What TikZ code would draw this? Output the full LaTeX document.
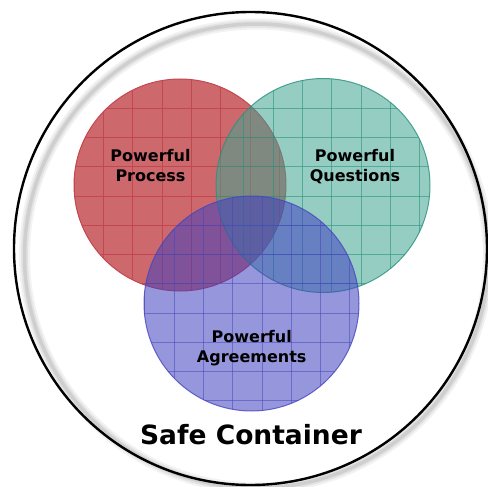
\documentclass[tikz,border=0pt]{standalone}
\usepackage{fontspec}
\setmainfont{DejaVu Sans}
\definecolor{redfill}{RGB}{205,105,108}
\definecolor{redline}{RGB}{195,70,80}
\definecolor{tealfill}{RGB}{64,164,146}
\definecolor{tealline}{RGB}{40,145,125}
\definecolor{bluefill}{RGB}{64,64,191}
\definecolor{blueline}{RGB}{70,70,190}
\tikzset{
  gridline/.style={line width=0.8pt},
  label/.style={font=\bfseries\fontsize{16}{20}\selectfont, align=center, inner sep=0pt, anchor=north},
  title/.style={font=\bfseries\fontsize{26.5}{30}\selectfont, inner sep=0pt, anchor=base},
}
\begin{document}
\begin{tikzpicture}[x=1pt,y=-1pt]
\useasboundingbox (0,0) rectangle (488,487);
% outer container with soft shadow
\draw[gray!10, line width=11pt] (256.5,256) circle (232);
\draw[gray!22, line width=7pt] (256.5,256) circle (232);
\draw[gray!38, line width=3.5pt] (256.5,256) circle (232);
\draw[black, line width=2.4pt] (250.5,248.5) circle (236.5);
% red circle
\fill[redfill] (180,185) circle (106);
\begin{scope}
  \clip (180,185) circle (106);
  \foreach \k in {-2,...,6} {
    \draw[gridline, redline] ({103.5+\k*29.3},70) -- ++(0,240);
  }
  \foreach \k in {-2,...,6} {
    \draw[gridline, redline] (60,{108+\k*29.3}) -- ++(240,0);
  }
\end{scope}
\draw[redline, line width=1pt] (180,185) circle (106);
% teal circle
\fill[tealfill, fill opacity=0.55] (323,185.5) circle (107);
\begin{scope}
  \clip (323,185.5) circle (107);
  \foreach \k in {-3,...,6} {
    \draw[gridline, tealline, opacity=0.6] ({273+\k*29.3},70) -- ++(0,240);
  }
  \foreach \k in {-2,...,6} {
    \draw[gridline, tealline, opacity=0.6] (200,{108+\k*29.3}) -- ++(250,0);
  }
\end{scope}
\draw[tealline, line width=1pt, opacity=0.8] (323,185.5) circle (107);
% blue circle
\fill[bluefill, fill opacity=0.55] (251.5,303.5) circle (107.5);
\begin{scope}
  \clip (251.5,303.5) circle (107.5);
  \foreach \k in {-2,...,7} {
    \draw[gridline, blueline, opacity=0.55] ({174+\k*29.3},190) -- ++(0,230);
  }
  \foreach \k in {-2,...,7} {
    \draw[gridline, blueline, opacity=0.55] (130,{225+\k*29.3}) -- ++(250,0);
  }
\end{scope}
\draw[blueline, line width=1pt, opacity=0.8] (251.5,303.5) circle (107.5);
% labels
\node[label] (process) at (150.5,149.5) {Powerful\\Process};
\node[label] (questions) at (355,149.5) {Powerful\\Questions};
\node[label] (agreements) at (251.7,330.5) {Powerful\\Agreements};
\node[title] (container) at (251,444.3) {Safe Container};
\end{tikzpicture}
\end{document}
